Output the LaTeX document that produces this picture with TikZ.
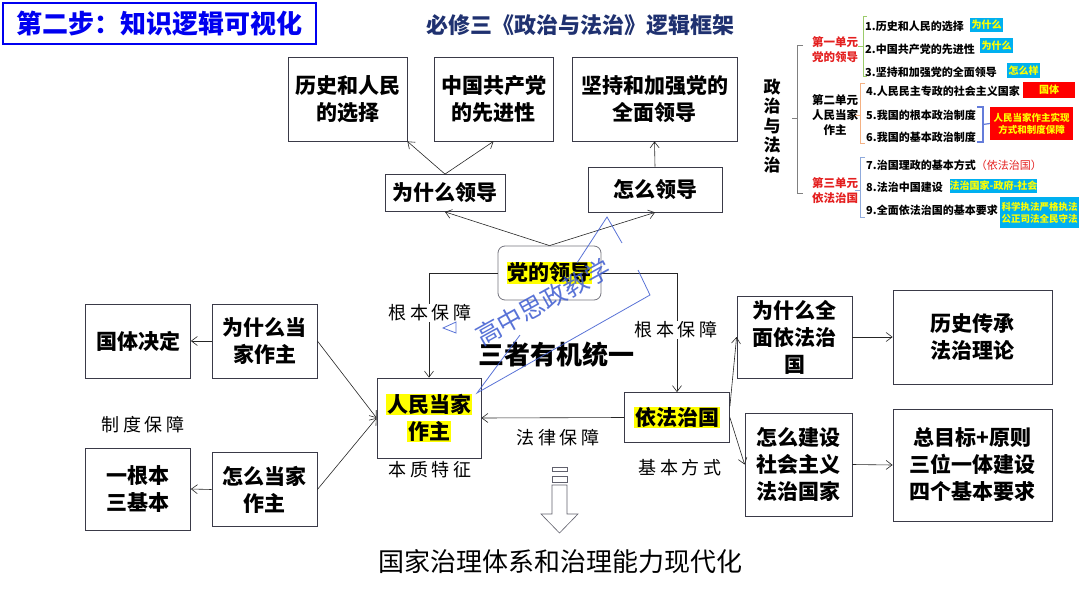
\documentclass[tikz,border=0pt]{standalone}
\usepackage{fontspec}
\usepackage{tikz}
\usetikzlibrary{arrows.meta}

\newfontfamily\cjk{Noto Sans CJK SC}
\newfontfamily\song{Noto Sans CJK SC}[LetterSpace=22]
\newfontfamily\songn{Noto Sans CJK SC}

\definecolor{boxgray}{HTML}{3A3A48}
\definecolor{hiyellow}{HTML}{FFFF00}
\definecolor{navy}{HTML}{1F3170}
\definecolor{titleblue}{HTML}{0000F0}
\definecolor{unitred}{HTML}{E42020}
\definecolor{tagcyan}{HTML}{00B0F0}
\definecolor{tagred}{HTML}{FF0000}
\definecolor{brgreen}{HTML}{9BCB6A}
\definecolor{brorange}{HTML}{F4B183}
\definecolor{brblue}{HTML}{8FAADC}
\definecolor{wmblue}{HTML}{3D5BD0}

\newcommand{\hlt}[1]{{\setlength{\fboxsep}{0.6pt}\colorbox{hiyellow}{#1}}}

\tikzset{
  box/.style={draw=boxgray, line width=0.8pt, align=center, inner sep=0pt,
    font=\cjk\bfseries\fontsize{21}{27}\selectfont},
  arr/.style={-{Straight Barb[length=6pt,width=9pt]}, line width=0.6pt, draw=black!85},
  lab/.style={fill=white, inner sep=1pt, font=\song\fontsize{18}{20}\selectfont},
  item/.style={anchor=west, inner sep=0pt, font=\cjk\bfseries\fontsize{11}{13}\selectfont},
  tag/.style={fill=tagcyan, text=hiyellow, inner sep=0pt, align=center,
    font=\cjk\bfseries\fontsize{10}{11}\selectfont},
  unit/.style={align=center, inner sep=0pt, font=\cjk\bfseries\fontsize{11.5}{15}\selectfont}
}

\begin{document}
\begin{tikzpicture}[x=1pt, y=-1pt]
  \useasboundingbox[fill=white] (0,0) rectangle (1080,608);

  \node[draw=titleblue, line width=2.2pt, minimum width=313pt, minimum height=41pt, inner sep=0pt,
    text=titleblue, font=\cjk\bfseries\fontsize{26}{28}\selectfont] (title) at (159.5,23.5) {第二步：知识逻辑可视化};
  \node[text=navy, font=\cjk\bfseries\fontsize{22}{24}\selectfont] (head) at (580,25) {必修三《政治与法治》逻辑框架};

  \node[box, minimum width=119pt, minimum height=84pt] (hist) at (347.5,99) {历史和人民\\的选择};
  \node[box, minimum width=119pt, minimum height=84pt] (adv) at (493.5,99) {中国共产党\\的先进性};
  \node[box, minimum width=165pt, minimum height=84pt] (lead) at (654.5,99) {坚持和加强党的\\全面领导};
  \node[box, minimum width=120pt, minimum height=37pt] (why) at (445,193) {为什么领导};
  \node[box, minimum width=134pt, minimum height=45pt] (how) at (655,189.5) {怎么领导};
  \node[box, draw=boxgray!70, rounded corners=7pt, minimum width=103pt, minimum height=54pt] (party) at (549.5,273) {\hlt{党的领导}};

  \node[box, minimum width=104pt, minimum height=80pt] (people) at (429,418) {\hlt{人民当家}\\\hlt{作主}};
  \node[box, minimum width=105pt, minimum height=50pt] (law) at (677,417.5) {\hlt{依法治国}};

  \node[box, minimum width=105pt, minimum height=74pt] (guoti) at (138,341) {国体决定};
  \node[box, minimum width=105pt, minimum height=74pt] (whymaster) at (264.5,341) {为什么当\\家作主};
  \node[box, minimum width=105pt, minimum height=82pt] (root) at (138,489) {一根本\\三基本};
  \node[box, minimum width=105pt, minimum height=74pt] (howmaster) at (264.5,489.5) {怎么当家\\作主};

  \node[box, minimum width=115pt, minimum height=82pt] (whylaw) at (794.5,337) {为什么全\\面依法治\\国};
  \node[box, minimum width=159pt, minimum height=94pt] (history) at (972.5,337) {历史传承\\法治理论};
  \node[box, minimum width=107pt, minimum height=103pt] (howbuild) at (798.5,464.5) {怎么建设\\社会主义\\法治国家};
  \node[box, minimum width=159pt, minimum height=112pt] (goal) at (972.5,465) {总目标+原则\\三位一体建设\\四个基本要求};

  \draw[arr] (party.north) -- (why.south);
  \draw[arr] (party.north) -- (how.south);
  \draw[arr] (why.north) -- (hist.south east);
  \draw[arr] (why.north) -- (adv.south);
  \draw[arr] (how.north) -- (lead.south);
  \draw[arr] (party.west) -| (people.north);
  \draw[arr] (party.east) -| (law.north);
  \draw[arr] (law.west) -- (people.east);
  \draw[arr] (whymaster.west) -- (guoti.east);
  \draw[arr] (howmaster.west) -- (root.east);
  \draw[arr] (whymaster.east) -- (people.west);
  \draw[arr] (howmaster.east) -- (people.west);
  \draw[arr] (law.12) -- (whylaw.west);
  \draw[arr] (law.east) -- (howbuild.west);
  \draw[arr] (whylaw.east) -- (history.west);
  \draw[arr] (howbuild.east) -- (goal.west);

  \node[lab] (base1) at (430,313) {根本保障};
  \node[lab] (base2) at (676,330) {根本保障};
  \node[lab] (essence) at (430,470) {本质特征};
  \node[lab] (method) at (680,468) {基本方式};
  \node[lab] (legal) at (558,438) {法律保障};
  \node[lab] (system) at (143,425) {制度保障};
  \node[font=\cjk\bfseries\fontsize{26}{28}\selectfont] (unity) at (556,355) {三者有机统一};

  \draw[boxgray!80, line width=0.6pt] (552,467) rectangle (567,471);
  \draw[boxgray!80, line width=0.6pt] (552,476) rectangle (567,482);
  \draw[boxgray!80, line width=0.6pt] (552,485) -- (567,485) -- (567,514) -- (578,514) -- (559.5,533)
    -- (541,514) -- (552,514) -- cycle;
  \node[font=\songn\fontsize{26}{28}\selectfont] (goalline) at (560,562) {国家治理体系和治理能力现代化};

  % outline of the book
  \node[font=\cjk\bfseries\fontsize{17}{19.5}\selectfont, align=center, inner sep=0pt] (book) at (772,126) {政\\治\\与\\法\\治};
  \draw[black!50, line width=0.7pt] (803,45) -- (797,45) -- (797,193) -- (803,193);
  \draw[black!50, line width=0.7pt] (797,118) -- (792,118);
  \node[unit, text=unitred] (unit1) at (835,50) {第一单元\\党的领导};
  \node[unit] (unit2) at (835,115) {第二单元\\人民当家\\作主};
  \node[unit, text=unitred] (unit3) at (835,191) {第三单元\\依法治国};
  \draw[brgreen, line width=0.7pt] (867,16) -- (863,16) -- (863,76) -- (867,76);
  \draw[brgreen, line width=0.7pt] (863,46) -- (858,46);
  \draw[brorange, line width=0.7pt] (865,83) -- (860,83) -- (860,143) -- (865,143);
  \draw[brorange, line width=0.7pt] (860,115) -- (855,115);
  \draw[brblue, line width=0.7pt] (865,157) -- (860,157) -- (860,217) -- (865,217);
  \draw[brblue, line width=0.7pt] (860,190) -- (855,190);

  \node[item] (item1) at (865,26) {1.历史和人民的选择};
  \node[item] (item2) at (865,49) {2.中国共产党的先进性};
  \node[item] (item3) at (865,72) {3.坚持和加强党的全面领导};
  \node[item] (item4) at (866,91) {4.人民民主专政的社会主义国家};
  \node[item] (item5) at (866,115) {5.我国的根本政治制度};
  \node[item] (item6) at (866,137) {6.我国的基本政治制度};
  \node[item] (item7) at (866,165) {7.治国理政的基本方式\textcolor{unitred}{\mdseries（依法治国）}};
  \node[item] (item8) at (866,187) {8.法治中国建设};
  \node[item] (item9) at (866,210) {9.全面依法治国的基本要求};

  \node[tag, minimum width=33pt, minimum height=14pt] (tag1) at (986.5,25) {为什么};
  \node[tag, minimum width=33pt, minimum height=15pt] (tag2) at (996.5,45.5) {为什么};
  \node[tag, minimum width=33pt, minimum height=15pt] (tag3) at (1023.5,70.5) {怎么样};
  \node[tag, fill=tagred, minimum width=52pt, minimum height=16pt] (tag4) at (1049,90) {国体};
  \node[tag, fill=tagred, minimum width=83pt, minimum height=33pt, font=\cjk\bfseries\fontsize{9.5}{12}\selectfont] (tag5) at (1031.5,123.5) {人民当家作主实现\\方式和制度保障};
  \node[tag, minimum width=87pt, minimum height=14pt] (tag8) at (993.5,186) {法治国家-政府-社会};
  \node[tag, minimum width=79pt, minimum height=31pt, font=\cjk\bfseries\fontsize{9.5}{12}\selectfont] (tag9) at (1039.5,212.5) {科学执法严格执法\\公正司法全民守法};
  \draw[wmblue!80, line width=1.2pt] (977,107) -- (983,107) -- (983,142) -- (977,142);
  \draw[wmblue!80, line width=1.2pt] (983,124.5) -- (tag5.west);

  % watermark
  \node[rotate=29, text=wmblue, opacity=0.85, font=\cjk\fontsize{25}{25}\selectfont] (mark) at (543,302) {高中思政教学};
  \draw[wmblue, opacity=0.85, line width=0.8pt] (520,335) -- (477,393) -- (650,295) -- (638,270);
  \draw[wmblue, opacity=0.85, line width=0.8pt] (622,243) -- (607,217) -- (577,263);
  \draw[wmblue, opacity=0.85, line width=0.8pt] (456,322) -- (443,328) -- (456,333) -- cycle;
\end{tikzpicture}
\end{document}
